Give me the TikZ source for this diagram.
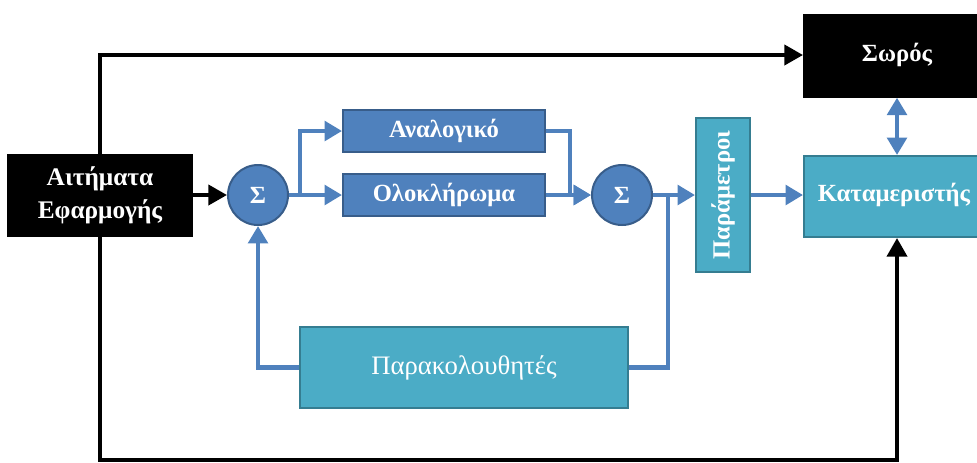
\documentclass[tikz,border=0pt]{standalone}
\usepackage{fontspec}
\setmainfont{Liberation Serif}
\usetikzlibrary{arrows.meta}
\definecolor{bluef}{HTML}{4F81BD}
\definecolor{blued}{HTML}{385D8A}
\definecolor{tealf}{HTML}{4BACC6}
\definecolor{teald}{HTML}{357D91}
\tikzset{
  lbl/.style={text=white, font=\bfseries\fontsize{18.5}{25}\selectfont},
  blk/.style={draw=black, fill=black, text=white, font=\bfseries\fontsize{19}{25}\selectfont, align=center, inner sep=0pt, line width=0.75pt},
  bluebox/.style={draw=blued, fill=bluef, text=white, font=\bfseries\fontsize{18.5}{25}\selectfont, inner sep=0pt, line width=1.5pt},
  tealbox/.style={draw=teald, fill=tealf, text=white, font=\bfseries\fontsize{18.5}{25}\selectfont, inner sep=0pt, line width=1.5pt},
  sumc/.style={circle, draw=blued, fill=bluef, text=white, font=\bfseries\fontsize{18.5}{25}\selectfont, minimum size=45pt, inner sep=0pt, line width=1.5pt},
  bline/.style={draw=black, line width=3pt},
  barrow/.style={bline, -{Triangle[length=14pt,width=15pt]}},
  uline/.style={draw=bluef, line width=3.2pt},
  uarrow/.style={uline, -{Triangle[length=13pt,width=14.5pt]}},
}
\begin{document}
\begin{tikzpicture}[x=0.75pt,y=-0.75pt]
\useasboundingbox (0,0) rectangle (977,462);
% nodes
\node[blk, minimum width=138.75pt, minimum height=61.5pt] (req) at (100,195) {Αιτήματα\\Εφαρμογής};
\node[blk, minimum width=131pt, minimum height=62pt, anchor=north west] (heap) at (803,14) {};
\node[lbl] (heapt) at (897,55) {Σωρός};
\node[tealbox, minimum width=131pt, minimum height=60.75pt, anchor=north west] (alloc) at (803,155) {};
\node[lbl] (allocT) at (894,195) {Καταμεριστής};
\node[tealbox, minimum width=40.5pt, minimum height=115.5pt] (par) at (723,195) {};
\node[lbl, rotate=90] (parT) at (723,195) {Παράμετροι};
\node[bluebox, minimum width=151.5pt, minimum height=31.5pt] (prop) at (444,131) {Αναλογικό};
\node[bluebox, minimum width=151.5pt, minimum height=31.5pt] (integ) at (444,195) {Ολοκλήρωμα};
\node[sumc] (s1) at (258,195) {Σ};
\node[sumc] (s2) at (622,195) {Σ};
\node[tealbox, font=\fontsize{20}{24}\selectfont, minimum width=246pt, minimum height=60.75pt] (mon) at (464,367.5) {Παρακολουθητές};
% coordinates
\coordinate (b1) at (300,195);
\coordinate (b2) at (668,195);
\coordinate (top) at (897,55);
% black connectors
\draw[barrow] (req.north) |- (heap.west |- top);
\draw[barrow] (req.south) -- (100,460) -| (top |- alloc.south);
\draw[barrow] (req.east) -- (s1.west);
% blue connectors
\draw[uarrow] (s1.east) -- (integ.west);
\draw[uarrow] (b1) |- (prop.west);
\draw[uarrow] (prop.east) -| (570,195) -- (s2.west);
\draw[uarrow] (integ.east) -- (s2.west);
\draw[uarrow] (s2.east) -- (par.west);
\draw[uline] (b2) |- (mon.east);
\draw[uarrow] (mon.west) -| (s1.south);
\draw[uarrow] (par.east) -- (par.east -| alloc.west);
\draw[uline, {Triangle[length=13pt,width=14.5pt]}-{Triangle[length=13pt,width=14.5pt]}] (heap.south -| top) -- (alloc.north -| top);
\end{tikzpicture}
\end{document}
